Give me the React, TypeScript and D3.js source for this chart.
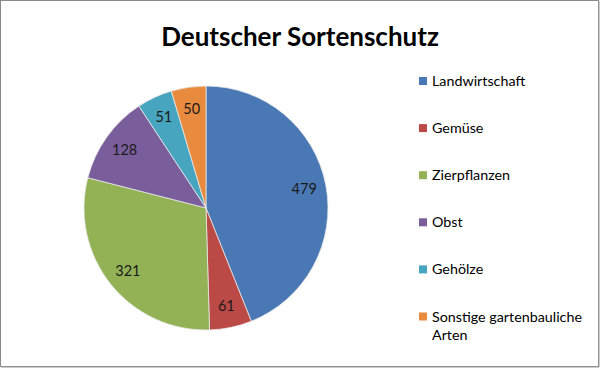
import React, { useEffect, useRef } from "react";
import * as d3 from "d3";

const categories = [
	"Landwirtschaft",
	"Gemüse",
	"Zierpflanzen",
	"Obst",
	"Gehölze",
	"Sonstige gartenbauliche Arten",
];
const values = [479, 61, 321, 128, 51, 50];
const colors = ["#4A78B5", "#BB4A47", "#93B255", "#7A5E9C", "#47A5BF", "#E88B3F"];
const legendLines = [["Landwirtschaft"], ["Gemüse"], ["Zierpflanzen"], ["Obst"], ["Gehölze"], ["Sonstige gartenbauliche", "Arten"]];

export default function App() {
	const svgRef = useRef<SVGSVGElement>(null);

	useEffect(() => {
		if (!svgRef.current) return;
		const width = 600;
		const height = 368;
		const cx = 206;
		const cy = 208;
		const radius = 122;
		const font = "Lato, 'Open Sans', sans-serif";

		const svg = d3.select(svgRef.current);
		svg.selectAll("*").remove();

		svg.append("rect").attr("width", width).attr("height", height).attr("fill", "#fff");
		svg
			.append("rect")
			.attr("x", 0.5)
			.attr("y", 0.5)
			.attr("width", width - 2)
			.attr("height", height - 2)
			.attr("fill", "none")
			.attr("stroke", "#8a8a8a");
		svg
			.append("path")
			.attr("d", `M${width - 1},1V${height - 1}H1`)
			.attr("fill", "none")
			.attr("stroke", "#9a9a9a")
			.attr("stroke-width", 1);

		svg
			.append("text")
			.attr("x", 300)
			.attr("y", 46)
			.attr("text-anchor", "middle")
			.attr("font-family", font)
			.attr("font-weight", "bold")
			.attr("font-size", 26)
			.attr("fill", "#000")
			.text("Deutscher Sortenschutz");

		const data = categories.map((c, i) => ({ name: c, value: values[i], color: colors[i] }));
		const pie = d3
			.pie<{ name: string; value: number; color: string }>()
			.value((d) => d.value)
			.sort(null);
		const arcs = pie(data);
		const arc = d3.arc<d3.PieArcDatum<any>>().innerRadius(0).outerRadius(radius);
		const labelArc = d3.arc<d3.PieArcDatum<any>>().innerRadius(100).outerRadius(100);

		const g = svg.append("g").attr("transform", `translate(${cx},${cy})`);
		g.selectAll("path")
			.data(arcs)
			.enter()
			.append("path")
			.attr("d", arc)
			.attr("fill", (d) => d.data.color)
			.attr("stroke", "#e8e8e8")
			.attr("stroke-width", 0.8);

		g.selectAll("text")
			.data(arcs)
			.enter()
			.append("text")
			.attr("transform", (d) => `translate(${labelArc.centroid(d)})`)
			.attr("text-anchor", "middle")
			.attr("dy", "0.35em")
			.attr("font-family", font)
			.attr("font-size", 14.5)
			.attr("fill", "#1a1a1a")
			.text((d) => d.data.value);

		const legend = svg.append("g").attr("transform", "translate(419,0)");
		const items = legend
			.selectAll("g")
			.data(legendLines)
			.enter()
			.append("g")
			.attr("transform", (_, i) => `translate(0,${81 + i * 47.1})`);
		items
			.append("rect")
			.attr("x", 0)
			.attr("y", -4)
			.attr("width", 8)
			.attr("height", 8)
			.attr("fill", (_, i) => colors[i]);
		items
			.selectAll("text")
			.data((d) => d)
			.enter()
			.append("text")
			.attr("x", 13)
			.attr("y", (_, j) => j * 18)
			.attr("dy", "0.35em")
			.attr("font-family", font)
			.attr("font-size", 14.3)
			.attr("fill", "#000")
			.text((d) => d);
	}, []);

	return (
		<div style={{ position: "absolute", left: 0, top: 0 }}>
			<svg ref={svgRef} width={600} height={368} style={{ display: "block" }} />
		</div>
	);
}
